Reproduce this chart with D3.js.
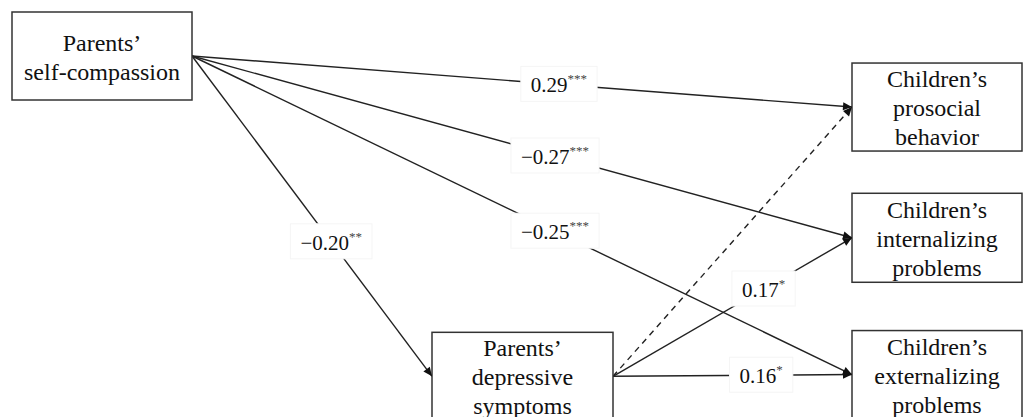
<!DOCTYPE html>
<html>
<head>
<meta charset="utf-8">
<script src="https://cdn.jsdelivr.net/npm/d3@7"></script>
<style>
  html, body { margin: 0; padding: 0; background: #fff; }
  svg { display: block; }
  svg text { font-family: "Liberation Serif", "Times New Roman", Times, serif; }
</style>
</head>
<body>
<div id="chart"></div>
<script>
// Variables in the model
const nodeIds = ['selfComp', 'depress', 'prosocial', 'internal', 'external'];
const nodeLabels = [
  ['Parents’', 'self-compassion'],
  ['Parents’', 'depressive', 'symptoms'],
  ['Children’s', 'prosocial', 'behavior'],
  ['Children’s', 'internalizing', 'problems'],
  ['Children’s', 'externalizing', 'problems']
];

// Paths: from, to, coefficient, significance stars (null coef = non-significant, dashed)
const pathFrom  = ['selfComp', 'selfComp', 'selfComp', 'selfComp', 'depress', 'depress', 'depress'];
const pathTo    = ['prosocial', 'internal', 'external', 'depress', 'prosocial', 'internal', 'external'];
const pathCoef  = [0.29, -0.27, -0.25, -0.20, null, 0.17, 0.16];
const pathStars = ['***', '***', '***', '**', '', '*', '*'];

// layout (grid units -> pixels through scales)
const W = 1023, H = 417;
const layout = {
  selfComp:  { col: 0, row: 0.0,  w: 180, h: 88 },
  depress:   { col: 1, row: 3.64, w: 181, h: 88 },
  prosocial: { col: 2, row: 0.58, w: 170, h: 88 },
  internal:  { col: 2, row: 2.06, w: 170, h: 89 },
  external:  { col: 2, row: 3.62, w: 170, h: 88 }
};
const labelT = [0.556, 0.55, 0.55, 0.58, null, 0.63, 0.62];

const x = d3.scaleLinear().domain([0, 1, 2]).range([12, 432, 852]);
const y = d3.scaleLinear().domain([0, 1]).range([12, 100]);

const svg = d3.select('#chart').append('svg')
  .attr('width', W).attr('height', H);

const nodes = nodeIds.map((id, i) => {
  const l = layout[id];
  const x0 = x(l.col), y0 = y(l.row);
  return { id, lines: nodeLabels[i], x0, y0, w: l.w, h: l.h, cx: x0 + l.w / 2, cy: y0 + l.h / 2 };
});
const byId = Object.fromEntries(nodes.map(n => [n.id, n]));

// anchor points: out from right edge middle, into left edge middle
const paths = pathFrom.map((f, i) => {
  const a = byId[f], b = byId[pathTo[i]];
  return {
    x1: a.x0 + a.w, y1: a.cy,
    x2: b.x0, y2: b.cy,
    coef: pathCoef[i], stars: pathStars[i], t: labelT[i]
  };
});

svg.append('g').selectAll('line')
  .data(paths)
  .join('line')
  .attr('x1', d => d.x1).attr('y1', d => d.y1)
  .attr('x2', d => d.x2).attr('y2', d => d.y2)
  .attr('stroke', '#222')
  .attr('stroke-width', 1.4)
  .attr('stroke-dasharray', d => d.coef === null ? '6,5' : null);

// coefficient labels
const fmt = v => (v < 0 ? '\u2212' : '') + Math.abs(v).toFixed(2);
const lab = svg.append('g').selectAll('g')
  .data(paths.filter(d => d.coef !== null))
  .join('g')
  .attr('transform', d => `translate(${d.x1 + (d.x2 - d.x1) * d.t},${d.y1 + (d.y2 - d.y1) * d.t})`);

lab.each(function(d) {
  const g = d3.select(this);
  const rect = g.append('rect').attr('fill', '#fff').attr('stroke', '#f5f5f5').attr('stroke-width', 1);
  const t = g.append('text')
    .attr('text-anchor', 'middle')
    .attr('y', 8)
    .attr('font-size', 21)
    .attr('fill', '#111');
  t.append('tspan').text(fmt(d.coef));
  t.append('tspan')
    .attr('font-size', 13)
    .attr('dy', -9)
    .attr('fill', '#444')
    .text(d.stars);
  const bb = t.node().getBBox();
  rect.attr('x', bb.x - 10).attr('y', -18)
    .attr('width', bb.width + 20).attr('height', 35);
});

// boxes
const box = svg.append('g').selectAll('g')
  .data(nodes)
  .join('g');

box.append('rect')
  .attr('x', d => d.x0).attr('y', d => d.y0)
  .attr('width', d => d.w).attr('height', d => d.h)
  .attr('fill', '#fff')
  .attr('stroke', '#333')
  .attr('stroke-width', 1.5);

box.append('text')
  .attr('text-anchor', 'middle')
  .attr('font-size', 24)
  .attr('fill', '#111')
  .each(function(d) {
    const n = d.lines.length, lh = 29;
    const t = d3.select(this);
    d.lines.forEach((s, i) => {
      t.append('tspan')
        .attr('x', d.cx)
        .attr('y', d.cy + 9 + (i - (n - 1) / 2) * lh)
        .text(s);
    });
  });

// arrowheads on top of box edges
svg.append('g').selectAll('path')
  .data(paths)
  .join('path')
  .attr('d', d => {
    const a = Math.atan2(d.y2 - d.y1, d.x2 - d.x1), L = 9, hw = 4;
    const bx = d.x2 - L * Math.cos(a), by = d.y2 - L * Math.sin(a);
    const px = -Math.sin(a) * hw, py = Math.cos(a) * hw;
    return `M${d.x2},${d.y2}L${bx + px},${by + py}L${bx - px},${by - py}Z`;
  })
  .attr('fill', '#111');
</script>
</body>
</html>
